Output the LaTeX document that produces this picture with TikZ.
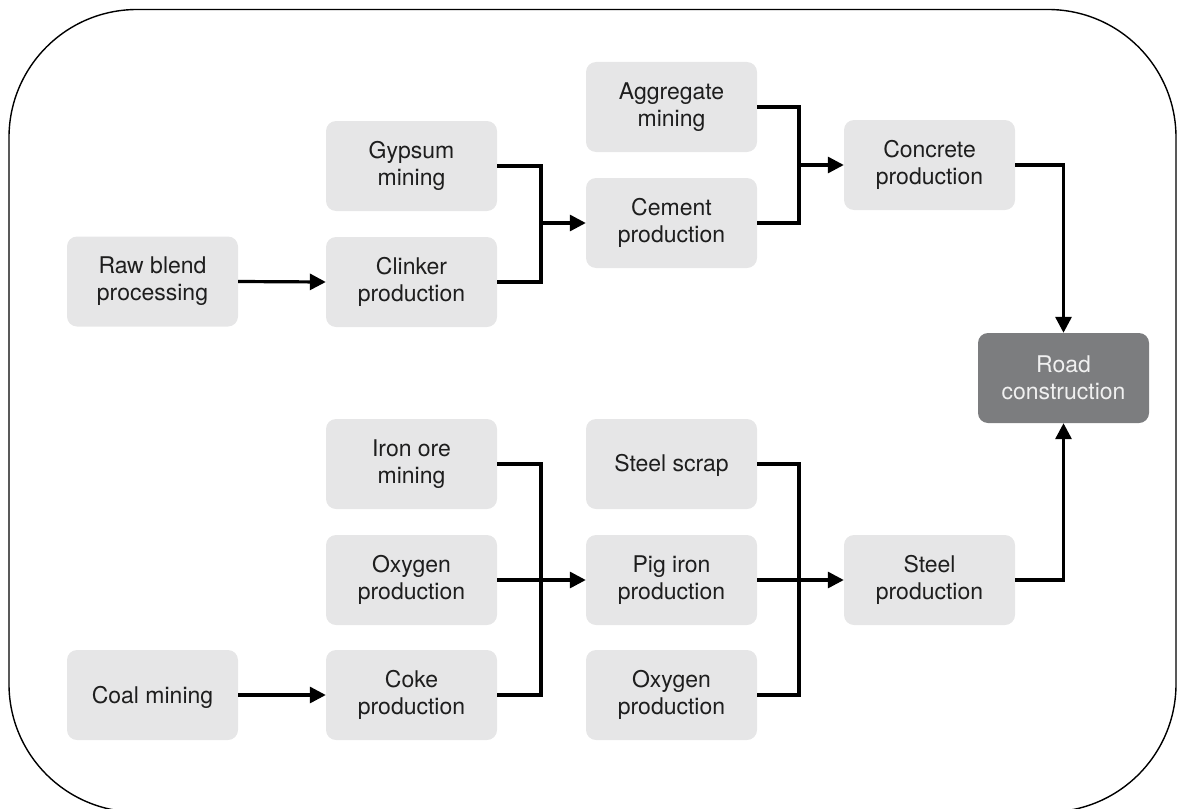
\documentclass[tikz,border=0pt]{standalone}
\usepackage{fontspec}
\setmainfont{TeX Gyre Heros}
\usetikzlibrary{arrows.meta}
\definecolor{boxfill}{HTML}{E6E6E7}
\definecolor{roadfill}{HTML}{7C7D7F}
\definecolor{ink}{HTML}{1E1E1E}
\begin{document}
\begin{tikzpicture}[x=1pt,y=-1pt,
  stage/.style={fill=boxfill, rounded corners=10pt, minimum width=171pt,
    minimum height=90pt, inner sep=0pt, align=center, text=ink,
    font=\fontsize{23}{27}\selectfont},
  oneline/.style={stage, execute at begin node={\rule{0pt}{21pt}}},
  goal/.style={stage, fill=roadfill, text=white!94!black},
  conn/.style={line width=3.2pt, draw=black},
  arr/.style={conn, -{Triangle[length=16pt,width=16pt]}}]
\useasboundingbox (0,0) rectangle (1177,808);
% outer frame, its lower edge runs past the page
\draw[line width=1.4pt, rounded corners=128pt] (9,9.5) rectangle (1176,812);

% cement branch
\node[stage] (raw) at (152.5,281.5) {Raw blend\\processing};
\node[stage] (gyp) at (411.5,166) {Gypsum\\mining};
\node[stage] (clk) at (411.5,282) {Clinker\\production};
\node[stage] (agg) at (671.5,107) {Aggregate\\mining};
\node[stage] (cem) at (671.5,223) {Cement\\production};
\node[stage] (conc) at (929.5,165) {Concrete\\production};

% steel branch
\node[stage] (iron) at (411.5,464) {Iron ore\\mining};
\node[stage] (oxa) at (411.5,580) {Oxygen\\production};
\node[oneline] (coal) at (152.5,695) {Coal mining};
\node[stage] (coke) at (411.5,695) {Coke\\production};
\node[oneline] (scrap) at (671.5,464) {Steel scrap};
\node[stage] (pig) at (671.5,580) {Pig iron\\production};
\node[stage] (oxb) at (671.5,695) {Oxygen\\production};
\node[stage] (steel) at (929.5,580) {Steel\\production};

\node[goal] (road) at (1063.5,378) {Road\\construction};

% junction points of the merging lines
\coordinate (j1) at (541,223);
\coordinate (j2) at (799,165);
\coordinate (j3) at (541,580);
\coordinate (j4) at (799,580);

\draw[arr] (raw.east) -- (clk.west);
\draw[conn] (gyp.east) -| (j1) |- (clk.east);
\draw[arr] (j1) -- (cem.west);
\draw[conn] (agg.east) -| (j2) |- (cem.east);
\draw[arr] (j2) -- (conc.west);
\draw[arr] (conc.east) -| (road.north);

\draw[arr] (coal.east) -- (coke.west);
\draw[conn] (iron.east) -| (j3) |- (coke.east);
\draw[arr] (oxa.east) -- (pig.west);
\draw[conn] (scrap.east) -| (j4) |- (oxb.east);
\draw[arr] (pig.east) -- (steel.west);
\draw[arr] (steel.east) -| (road.south);
\end{tikzpicture}
\end{document}
